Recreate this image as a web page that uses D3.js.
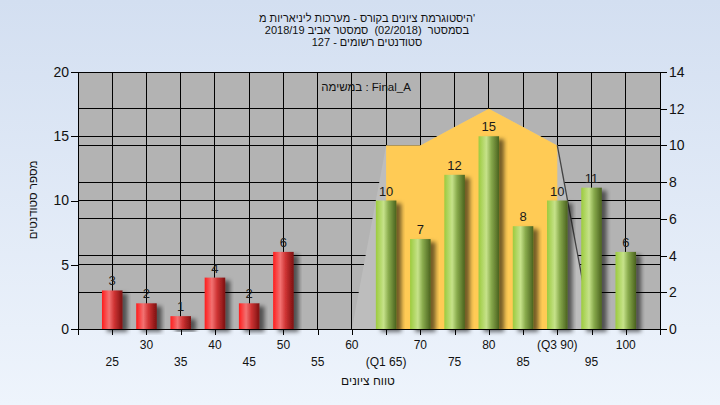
<!DOCTYPE html>
<html><head><meta charset="utf-8">
<script src="https://cdn.jsdelivr.net/npm/d3@7"></script>
<style>
html,body{margin:0;padding:0;}
body{width:720px;height:405px;overflow:hidden;}
svg text{font-family:"Liberation Sans","DejaVu Sans",Arial,sans-serif;}
</style></head>
<body><svg id="c" width="720" height="405"></svg>
<script>
// ---- data ----
const titleLines = ["היסטוגרמת ציונים בקורס - מערכות ליניאריות מ'", "בסמסטר  (02/2018)  סמסטר אביב 2018/19", "סטודנטים רשומים - 127"];
const legendText = "במשימה : Final_A";
const yTitle = "מספר סטודנטים";
const xTitle = "טווח ציונים";
const grades = [25,30,35,40,45,50,55,60,65,70,75,80,85,90,95,100];
const counts = [3,2,1,4,2,6,0,0,10,7,12,15,8,10,11,6];
const tickLabels = ["25","30","35","40","45","50","55","60","(Q1 65)","70","75","80","85","(Q3 90)","95","100"];
const failBelow = 55;
const curveGrades = [60,65,70,75,80,85,90,95];
const curveValues = [0,10,10,11,12,11,10,0];
const q1 = 65, q3 = 90;
const leftTicks = [0,5,10,15,20];
const rightTicks = [0,2,4,6,8,10,12,14];

// ---- layout ----
const svg = d3.select("#c");
const L = 78, R = 660, T = 72, B = 329;
const x = d3.scaleLinear().domain([20,105]).range([L,R]);
const y = d3.scaleLinear().domain([0,20]).range([B,T]);
const y2 = d3.scaleLinear().domain([0,14]).range([B,T]);

const defs = svg.append("defs");
const bg = defs.append("linearGradient").attr("id","bg").attr("x1",0).attr("y1",0).attr("x2",0).attr("y2",1);
bg.append("stop").attr("offset","0%").attr("stop-color","#d3dff1");
bg.append("stop").attr("offset","100%").attr("stop-color","#eef4fc");
function grad(id, stops){
  const g = defs.append("linearGradient").attr("id",id).attr("x1",0).attr("y1",0).attr("x2",1).attr("y2",0);
  stops.forEach(s=>g.append("stop").attr("offset",s[0]).attr("stop-color",s[1]));
}
grad("red",[["0%","#ff1c1c"],["35%","#f27272"],["60%","#cf3434"],["100%","#7c1010"]]);
grad("green",[["0%","#9ccb3e"],["38%","#c6e28a"],["62%","#88aa4c"],["100%","#4a621e"]]);
const f = defs.append("filter").attr("id","sh").attr("x","-20%").attr("y","-20%").attr("width","160%").attr("height","140%");
f.append("feDropShadow").attr("dx",5).attr("dy",3).attr("stdDeviation",2).attr("flood-color","#000").attr("flood-opacity",0.55);

svg.append("rect").attr("width",720).attr("height",405).attr("fill","url(#bg)");
svg.append("rect").attr("x",L).attr("y",T).attr("width",R-L).attr("height",B-T).attr("fill","#b3b3b3");

// grid
const grid = svg.append("g").attr("stroke","#000").attr("stroke-width",1).attr("shape-rendering","crispEdges");
leftTicks.forEach(t=>grid.append("line").attr("x1",L).attr("x2",R).attr("y1",y(t)).attr("y2",y(t)));
rightTicks.forEach(t=>grid.append("line").attr("x1",L).attr("x2",R).attr("y1",y2(t)).attr("y2",y2(t)));
d3.range(20,106,5).forEach(t=>grid.append("line").attr("x1",x(t)).attr("x2",x(t)).attr("y1",T).attr("y2",B));

// distribution area
const pts = curveGrades.map((g,i)=>[g,curveValues[i]]);
const area = d3.area().x(d=>x(d[0])).y0(B).y1(d=>y2(d[1]));
svg.append("path").attr("d",area(pts)).attr("fill","#bdbdbd");
svg.append("path").attr("d",area(pts.filter(d=>d[0]>=q1&&d[0]<=q3))).attr("fill","#ffcb55");
const tail = pts.filter(d=>d[0]>=q3);
svg.append("path").attr("d",d3.line().x(d=>x(d[0])).y(d=>y2(d[1]))(tail)).attr("fill","none").attr("stroke","#444").attr("stroke-width",1.3);

// bars
const bw = x(1.5)-x(-1.5);
const bars = svg.append("g");
grades.forEach((g,i)=>{
  if(counts[i]<=0) return;
  bars.append("rect").attr("x",x(g)-bw/2).attr("y",y(counts[i])).attr("width",bw).attr("height",B-y(counts[i]))
    .attr("fill", g<failBelow?"url(#red)":"url(#green)").attr("filter","url(#sh)");
});
grades.forEach((g,i)=>{
  if(counts[i]<=0) return;
  svg.append("text").attr("x",x(g)).attr("y",y(counts[i])-5).attr("text-anchor","middle")
    .attr("font-size",13).attr("fill","#1a1a1a").text(counts[i]);
});

// axes
const axL = svg.append("g").attr("transform",`translate(${L},0)`).call(d3.axisLeft(y).tickValues(leftTicks).tickSize(7).tickSizeOuter(0).tickPadding(2));
const axR = svg.append("g").attr("transform",`translate(${R},0)`).call(d3.axisRight(y2).tickValues(rightTicks).tickSize(7).tickSizeOuter(0).tickPadding(2));
const axB = svg.append("g").attr("transform",`translate(0,${B})`).call(d3.axisBottom(x).tickValues(d3.range(20,106,5)).tickSize(6).tickSizeOuter(0).tickFormat(""));
[axL,axR,axB].forEach(a=>{
  a.selectAll("path,line").attr("stroke","#000").attr("shape-rendering","crispEdges");
  a.selectAll("text").attr("font-size",14).attr("fill","#111").style("font-family",'"Liberation Sans","DejaVu Sans",sans-serif');
});
svg.append("line").attr("x1",L).attr("x2",R).attr("y1",T).attr("y2",T).attr("stroke","#000").attr("shape-rendering","crispEdges");

grades.forEach((g,i)=>{
  svg.append("text").attr("x",x(g)).attr("y", i%2===0?366:349).attr("text-anchor","middle")
    .attr("font-size",12).attr("fill","#111").text(tickLabels[i]);
});

// titles
titleLines.forEach((t,i)=>{
  svg.append("text").attr("x",367).attr("y",22+i*12).attr("text-anchor","middle").attr("font-size",11)
    .style("white-space","pre").attr("fill","#111").text(t);
});
svg.append("text").attr("x",366).attr("y",91).attr("text-anchor","middle").attr("font-size",11.5).attr("fill","#111").text(legendText);
svg.append("text").attr("transform","translate(37,200) rotate(-90)").attr("text-anchor","middle").attr("font-size",11.5).attr("fill","#111").text(yTitle);
svg.append("text").attr("x",368).attr("y",385).attr("text-anchor","middle").attr("font-size",12).attr("fill","#111").text(xTitle);
</script></body></html>
